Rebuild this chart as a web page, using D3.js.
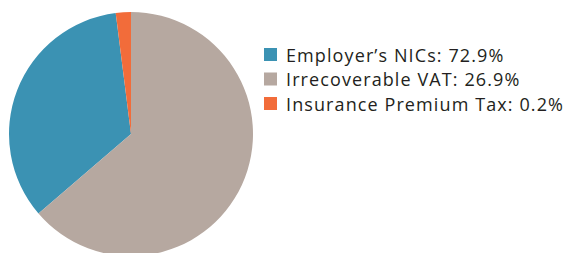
<!DOCTYPE html>
<html>
<head>
<meta charset="utf-8">
<script src="https://cdn.jsdelivr.net/npm/d3@7"></script>
<style>
  body { margin: 0; background: #fff; }
  text { font-family: "Open Sans", "Noto Sans", sans-serif; }
</style>
</head>
<body>
<svg id="chart" width="567" height="253"></svg>
<script>
// legend entries, in legend order
const categories = ['Employer\u2019s NICs', 'Irrecoverable VAT', 'Insurance Premium Tax'];
const legendPct = ['72.9%', '26.9%', '0.2%'];
// slice sizes as drawn in the pie (percent of the circle)
const sliceShares = [34.3, 63.7, 2.0];
const colours = ['#3b92b3', '#b6a8a0', '#f26c3a'];

const svg = d3.select('#chart');

const cx = 131, cy = 134, radius = 122;

// slices run anticlockwise, the last one ending at 12 o'clock
const total = d3.sum(sliceShares);
const start = -2 * Math.PI * sliceShares[2] / total;
const pie = d3.pie()
    .sort(null)
    .value(d => d)
    .startAngle(start)
    .endAngle(start - 2 * Math.PI);

const arc = d3.arc()
    .innerRadius(0)
    .outerRadius(radius);

const colour = d3.scaleOrdinal()
    .domain(d3.range(categories.length))
    .range(colours);

const pieGroup = svg.append('g')
    .attr('transform', `translate(${cx}, ${cy})`);

pieGroup.selectAll('path')
    .data(pie(sliceShares))
    .enter()
    .append('path')
    .attr('d', arc)
    .attr('fill', (d, i) => colour(i));

// legend
const rowY = d3.scalePoint()
    .domain(d3.range(categories.length))
    .range([54.5, 103.5]);

const legend = svg.append('g');

const rows = legend.selectAll('g')
    .data(categories)
    .enter()
    .append('g')
    .attr('transform', (d, i) => `translate(264, ${rowY(i)})`);

rows.append('rect')
    .attr('x', 0)
    .attr('y', -6.5)
    .attr('width', 13)
    .attr('height', 13)
    .attr('fill', (d, i) => colour(i));

rows.append('text')
    .attr('x', 22)
    .attr('y', 7)
    .attr('font-size', 18)
    .attr('letter-spacing', 1.1)
    .attr('fill', '#231f20')
    .text((d, i) => `${d}: ${legendPct[i]}`);
</script>
</body>
</html>
